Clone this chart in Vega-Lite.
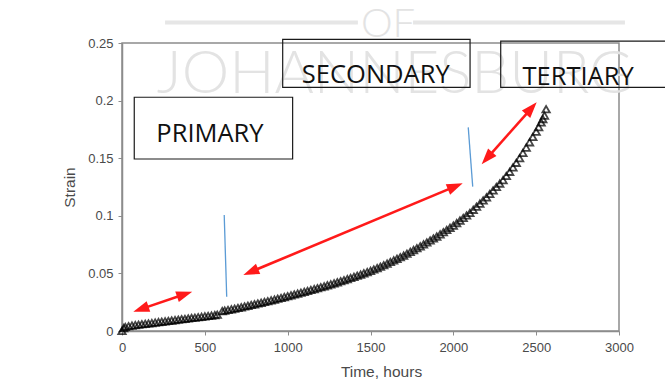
{
  "$schema": "https://vega.github.io/schema/vega-lite/v6.json",
  "width": 497,
  "height": 288,
  "autosize": {"type": "none"},
  "padding": {"left": 122, "top": 43, "right": 46, "bottom": 52},
  "background": "white",
  "config": {
    "view": {"stroke": "#8c8c8c", "strokeWidth": 1.5},
    "axis": {
      "grid": false,
      "domainColor": "#8c8c8c",
      "domainWidth": 1.5,
      "tickColor": "#8c8c8c",
      "tickSize": 4,
      "labelFont": "Liberation Sans",
      "labelFontSize": 13,
      "labelColor": "#4a4a4a",
      "titleFont": "Liberation Sans",
      "titleFontSize": 15.5,
      "titleFontWeight": "normal",
      "titleColor": "#4a4a4a"
    }
  },
  "datasets": {
    "creep": [
      {"t": 0, "strain": 0.0}, {"t": 10, "strain": 0.0025}, {"t": 20, "strain": 0.0035},
      {"t": 40, "strain": 0.0042}, {"t": 60, "strain": 0.0047}, {"t": 80, "strain": 0.0051},
      {"t": 100, "strain": 0.0055}, {"t": 120, "strain": 0.0059}, {"t": 140, "strain": 0.0062},
      {"t": 160, "strain": 0.0066}, {"t": 180, "strain": 0.0069}, {"t": 200, "strain": 0.0073},
      {"t": 220, "strain": 0.0077}, {"t": 240, "strain": 0.0080}, {"t": 260, "strain": 0.0084},
      {"t": 280, "strain": 0.0087}, {"t": 300, "strain": 0.0091}, {"t": 320, "strain": 0.0095},
      {"t": 340, "strain": 0.0098}, {"t": 360, "strain": 0.0102}, {"t": 380, "strain": 0.0105},
      {"t": 400, "strain": 0.0109}, {"t": 420, "strain": 0.0113}, {"t": 440, "strain": 0.0116},
      {"t": 460, "strain": 0.0120}, {"t": 480, "strain": 0.0123}, {"t": 500, "strain": 0.0127},
      {"t": 520, "strain": 0.0131}, {"t": 540, "strain": 0.0134}, {"t": 560, "strain": 0.0138},
      {"t": 575, "strain": 0.0141},
      {"t": 605, "strain": 0.0173}, {"t": 620, "strain": 0.0177}, {"t": 640, "strain": 0.0183},
      {"t": 660, "strain": 0.0188}, {"t": 680, "strain": 0.0194}, {"t": 700, "strain": 0.0200},
      {"t": 720, "strain": 0.0206}, {"t": 740, "strain": 0.0213}, {"t": 760, "strain": 0.0219},
      {"t": 780, "strain": 0.0226}, {"t": 800, "strain": 0.0232}, {"t": 820, "strain": 0.0239},
      {"t": 840, "strain": 0.0245}, {"t": 860, "strain": 0.0252}, {"t": 880, "strain": 0.0259},
      {"t": 900, "strain": 0.0266}, {"t": 920, "strain": 0.0273}, {"t": 940, "strain": 0.0280},
      {"t": 960, "strain": 0.0287}, {"t": 980, "strain": 0.0295}, {"t": 1000, "strain": 0.0302},
      {"t": 1020, "strain": 0.0310}, {"t": 1040, "strain": 0.0317}, {"t": 1060, "strain": 0.0325},
      {"t": 1080, "strain": 0.0332}, {"t": 1100, "strain": 0.0340}, {"t": 1120, "strain": 0.0348},
      {"t": 1140, "strain": 0.0356}, {"t": 1160, "strain": 0.0364}, {"t": 1180, "strain": 0.0372},
      {"t": 1200, "strain": 0.0380}, {"t": 1220, "strain": 0.0388}, {"t": 1240, "strain": 0.0397},
      {"t": 1260, "strain": 0.0405}, {"t": 1280, "strain": 0.0414}, {"t": 1300, "strain": 0.0423},
      {"t": 1320, "strain": 0.0432}, {"t": 1340, "strain": 0.0441}, {"t": 1360, "strain": 0.0451},
      {"t": 1380, "strain": 0.0460}, {"t": 1400, "strain": 0.0470}, {"t": 1420, "strain": 0.0480},
      {"t": 1440, "strain": 0.0490}, {"t": 1460, "strain": 0.0501}, {"t": 1480, "strain": 0.0511},
      {"t": 1500, "strain": 0.0522}, {"t": 1520, "strain": 0.0534}, {"t": 1540, "strain": 0.0546},
      {"t": 1560, "strain": 0.0558}, {"t": 1580, "strain": 0.0571}, {"t": 1600, "strain": 0.0585},
      {"t": 1620, "strain": 0.0599}, {"t": 1640, "strain": 0.0613}, {"t": 1660, "strain": 0.0627},
      {"t": 1680, "strain": 0.0641}, {"t": 1700, "strain": 0.0655}, {"t": 1720, "strain": 0.0671},
      {"t": 1740, "strain": 0.0687}, {"t": 1760, "strain": 0.0703}, {"t": 1780, "strain": 0.0719},
      {"t": 1800, "strain": 0.0735}, {"t": 1820, "strain": 0.0752}, {"t": 1840, "strain": 0.0769},
      {"t": 1860, "strain": 0.0786}, {"t": 1880, "strain": 0.0803}, {"t": 1900, "strain": 0.0820},
      {"t": 1920, "strain": 0.0839}, {"t": 1940, "strain": 0.0858}, {"t": 1960, "strain": 0.0877},
      {"t": 1980, "strain": 0.0896}, {"t": 2000, "strain": 0.0915}, {"t": 2020, "strain": 0.0937},
      {"t": 2040, "strain": 0.0959}, {"t": 2060, "strain": 0.0981}, {"t": 2080, "strain": 0.1003},
      {"t": 2100, "strain": 0.1025}, {"t": 2120, "strain": 0.1052}, {"t": 2140, "strain": 0.1079},
      {"t": 2160, "strain": 0.1106}, {"t": 2180, "strain": 0.1133}, {"t": 2200, "strain": 0.1160},
      {"t": 2220, "strain": 0.1190}, {"t": 2240, "strain": 0.1220}, {"t": 2260, "strain": 0.1250},
      {"t": 2280, "strain": 0.1280}, {"t": 2300, "strain": 0.1310}, {"t": 2320, "strain": 0.1346},
      {"t": 2340, "strain": 0.1382}, {"t": 2360, "strain": 0.1420}, {"t": 2380, "strain": 0.1460},
      {"t": 2400, "strain": 0.1500}, {"t": 2420, "strain": 0.1546}, {"t": 2440, "strain": 0.1592},
      {"t": 2460, "strain": 0.1638}, {"t": 2480, "strain": 0.1684}, {"t": 2500, "strain": 0.1730},
      {"t": 2515, "strain": 0.1770}, {"t": 2530, "strain": 0.1810}, {"t": 2540, "strain": 0.1840},
      {"t": 2550, "strain": 0.1870}, {"t": 2560, "strain": 0.1925}
    ],
    "stages": [
      {"stage": "PRIMARY", "x1": 74, "x2": 1030, "y1": 0.1493, "y2": 0.2029, "tx": 531, "ty": 0.1643},
      {"stage": "SECONDARY", "x1": 970, "x2": 2101, "y1": 0.2115, "y2": 0.2532, "tx": 1532, "ty": 0.2150},
      {"stage": "TERTIARY", "x1": 2286, "x2": 3300, "y1": 0.2115, "y2": 0.2517, "tx": 2753, "ty": 0.2135}
    ],
    "bounds": [
      {"x1": 617, "y1": 0.1007, "x2": 632, "y2": 0.0298},
      {"x1": 2090, "y1": 0.1768, "x2": 2117, "y2": 0.1253}
    ],
    "arrows": [
      {"id": "primary", "x1": 114, "y1": 0.0190, "x2": 378, "y2": 0.0319},
      {"id": "secondary", "x1": 777, "y1": 0.0513, "x2": 2012, "y2": 0.1255},
      {"id": "tertiary", "x1": 2203, "y1": 0.1499, "x2": 2471, "y2": 0.1933}
    ],
    "heads": [
      {"id": "p0", "x": 114, "y": 0.0190}, {"id": "p1", "x": 378, "y": 0.0319},
      {"id": "s0", "x": 777, "y": 0.0513}, {"id": "s1", "x": 2012, "y": 0.1255},
      {"id": "t0", "x": 2203, "y": 0.1499}, {"id": "t1", "x": 2471, "y": 0.1933}
    ],
    "mark_text": [
      {"word": "OF", "x": 1606, "y": 0.2552, "size": "small"},
      {"word": "JOHANNESBURG", "x": 1648, "y": 0.2066, "size": "large"}
    ],
    "mark_lines": [
      {"x1": 260, "x2": 1424, "y": 0.2678},
      {"x1": 1757, "x2": 3036, "y": 0.2678}
    ]
  },
  "encoding": {
    "x": {
      "type": "quantitative",
      "scale": {"domain": [0, 3000], "nice": false},
      "axis": {"title": "Time, hours", "values": [0, 500, 1000, 1500, 2000, 2500, 3000], "format": "d", "labelPadding": 6, "titlePadding": 10, "titleX": 259, "labelFlush": false}
    },
    "y": {
      "type": "quantitative",
      "scale": {"domain": [0, 0.25], "nice": false},
      "axis": {"title": "Strain", "values": [0, 0.05, 0.1, 0.15, 0.2, 0.25], "format": "~g", "labelPadding": 5, "titlePadding": 10}
    }
  },
  "layer": [
    {
      "data": {"name": "mark_lines"},
      "mark": {"type": "rule", "color": "#e6e6e6", "strokeWidth": 4},
      "encoding": {
        "x": {"field": "x1"},
        "x2": {"field": "x2"},
        "y": {"field": "y"}
      }
    },
    {
      "data": {"name": "mark_text"},
      "transform": [{"filter": "datum.size == 'small'"}],
      "mark": {"type": "text", "font": "Lato", "fontWeight": 300, "fontSize": 40, "color": "#e3e3e3", "align": "center", "baseline": "alphabetic"},
      "encoding": {
        "x": {"field": "x"},
        "y": {"field": "y"},
        "text": {"field": "word"}
      }
    },
    {
      "data": {"name": "mark_text"},
      "transform": [{"filter": "datum.size == 'large'"}],
      "mark": {"type": "text", "font": "Lato", "fontWeight": 300, "fontSize": 60, "color": "#e3e3e3", "align": "center", "baseline": "alphabetic"},
      "encoding": {
        "x": {"field": "x"},
        "y": {"field": "y"},
        "text": {"field": "word"}
      }
    },
    {
      "data": {"name": "creep"},
      "mark": {"type": "point", "shape": "triangle-up", "filled": false, "stroke": "#000000", "strokeWidth": 1.8, "size": 55, "opacity": 0.72},
      "encoding": {
        "x": {"field": "t"},
        "y": {"field": "strain"}
      }
    },
    {
      "data": {"name": "stages"},
      "mark": {"type": "rect", "fill": null, "fillOpacity": 0, "stroke": "#1a1a1a", "strokeWidth": 1.2},
      "encoding": {
        "x": {"field": "x1"},
        "x2": {"field": "x2"},
        "y": {"field": "y1"},
        "y2": {"field": "y2"}
      }
    },
    {
      "data": {"name": "stages"},
      "mark": {"type": "text", "font": "Open Sans", "fontSize": 25.5, "color": "#111111", "align": "center", "baseline": "alphabetic"},
      "encoding": {
        "x": {"field": "tx"},
        "y": {"field": "ty"},
        "text": {"field": "stage"}
      }
    },
    {
      "data": {"name": "bounds"},
      "mark": {"type": "rule", "color": "#5b9bd5", "strokeWidth": 1.3},
      "encoding": {
        "x": {"field": "x1"},
        "x2": {"field": "x2"},
        "y": {"field": "y1"},
        "y2": {"field": "y2"}
      }
    },
    {
      "data": {"name": "arrows"},
      "mark": {"type": "rule", "color": "#ff1a1a", "strokeWidth": 2.6},
      "encoding": {
        "x": {"field": "x1"},
        "x2": {"field": "x2"},
        "y": {"field": "y1"},
        "y2": {"field": "y2"}
      }
    },
    {
      "data": {"name": "heads"},
      "transform": [{"filter": "datum.id == 'p0'"}],
      "mark": {"type": "point", "shape": "M-1,-0.7L1,0L-1,0.7Z", "filled": true, "color": "#ff1a1a", "opacity": 1, "size": 256, "angle": 161.3},
      "encoding": {"x": {"field": "x"}, "y": {"field": "y"}}
    },
    {
      "data": {"name": "heads"},
      "transform": [{"filter": "datum.id == 'p1'"}],
      "mark": {"type": "point", "shape": "M-1,-0.7L1,0L-1,0.7Z", "filled": true, "color": "#ff1a1a", "opacity": 1, "size": 256, "angle": 341.3},
      "encoding": {"x": {"field": "x"}, "y": {"field": "y"}}
    },
    {
      "data": {"name": "heads"},
      "transform": [{"filter": "datum.id == 's0'"}],
      "mark": {"type": "point", "shape": "M-1,-0.7L1,0L-1,0.7Z", "filled": true, "color": "#ff1a1a", "opacity": 1, "size": 256, "angle": 157.3},
      "encoding": {"x": {"field": "x"}, "y": {"field": "y"}}
    },
    {
      "data": {"name": "heads"},
      "transform": [{"filter": "datum.id == 's1'"}],
      "mark": {"type": "point", "shape": "M-1,-0.7L1,0L-1,0.7Z", "filled": true, "color": "#ff1a1a", "opacity": 1, "size": 256, "angle": 337.3},
      "encoding": {"x": {"field": "x"}, "y": {"field": "y"}}
    },
    {
      "data": {"name": "heads"},
      "transform": [{"filter": "datum.id == 't0'"}],
      "mark": {"type": "point", "shape": "M-1,-0.7L1,0L-1,0.7Z", "filled": true, "color": "#ff1a1a", "opacity": 1, "size": 256, "angle": 131.6},
      "encoding": {"x": {"field": "x"}, "y": {"field": "y"}}
    },
    {
      "data": {"name": "heads"},
      "transform": [{"filter": "datum.id == 't1'"}],
      "mark": {"type": "point", "shape": "M-1,-0.7L1,0L-1,0.7Z", "filled": true, "color": "#ff1a1a", "opacity": 1, "size": 256, "angle": 311.6},
      "encoding": {"x": {"field": "x"}, "y": {"field": "y"}}
    }
  ]
}
